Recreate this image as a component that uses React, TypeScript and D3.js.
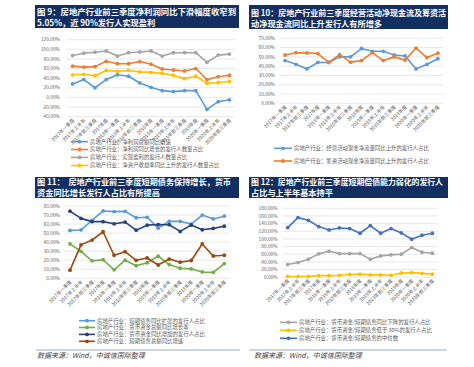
import React from "react";
import * as d3 from "d3";

const CATS = [
  "2017年一季度", "2017年上半年", "2017年前三季度", "2017年度",
  "2018年一季度", "2018年上半年", "2018年前三季度", "2018年度",
  "2019年一季度", "2019年上半年", "2019年前三季度", "2019年度",
  "2020年一季度", "2020年上半年", "2020年前三季度",
];

// 图9
const profitGrowth = [28, 37, 20, 37, 47, 44, 30, 21, 14, 12, 14, 14, -25, -9, -5.05];
const profitUpShare = [65, 63, 64, 75, 70, 70, 74.5, 69, 59, 57, 55, 60, 36.6, 43, 46];
const profitableShare = [87, 92, 94, 96.5, 86, 93, 94.5, 96.5, 86, 93, 93, 93, 73, 88, 90];
const roeUpShare = [47, 48, 45, 56, 54, 56, 53, 52, 50, 46, 39, 44, 29, 31, 33];
const ticks9 = [-40, -20, 0, 20, 40, 60, 80, 100, 120];

// 图10
const opCashUp = [46, 42, 37, 44, 44, 50, 50, 59, 56, 56, 52, 51, 37, 42, 48];
const finCashUp = [52, 54.5, 54.3, 53.6, 44, 52.5, 44.3, 46, 54.6, 46, 50, 46.5, 59.5, 49.3, 54];
const ticks10 = [0, 10, 20, 30, 40, 50, 60, 70];

// 图11
const shortDebtUpShare = [53, 53.5, 64, 74.5, 73.8, 74, 67, 67.5, 55.5, 63, 63, 60, 70, 65.7, 68.7];
const cashGrowth = [38, 29.8, 19.3, 20.5, 9.4, 20, 13.9, 17.2, 24.5, 15.2, 11.1, 10.4, 7, 6.6, 16.3];
const cashUpShare = [74.3, 66.3, 62.7, 62.7, 60.3, 62.2, 53.2, 58.8, 59.5, 59.3, 51.9, 59, 53.7, 55.2, 57.7];
const shortDebtGrowth = [9, 37, 42.3, 51.5, 25.5, 29.4, 19.9, 22.5, 14.7, 21.3, 17.8, 19.7, 38, 24.7, 25.5];
const ticks11 = [0, 10, 20, 30, 40, 50, 60, 70, 80];

// 图12
const ratioDownShare = [33, 38.3, 47, 61, 67.8, 61.7, 61.7, 61.7, 47, 55.7, 58.3, 60, 77.4, 65.2, 62.6];
const ratioBelow30 = [2, 2, 2, 4, 4, 5, 7, 8, 6, 6, 5, 11, 12, 10, 8];
const ratioMedian = [129.6, 155.7, 148.7, 132.2, 123.5, 128.7, 127, 114.8, 134.8, 114.8, 127, 115.7, 99.1, 109.6, 114.8];
const ticks12 = [0, 20, 40, 60, 80, 100, 120, 140, 160, 180];

const FONT = "'Noto Sans CJK SC', 'Noto Sans', sans-serif";
const NAVY = "#132f62";

const charts = [
  {
    title: ["图 9：房地产行业前三季度净利润同比下滑幅度收窄到", "5.05%，近 90%发行人实现盈利"],
    titleLen: 199,
    box: [35, 5, 204, 23], titleY: [15.3, 26],
    xr: [67, 235], yd: [-40, 120], yr: [116.6, 39.7], ticks: ticks9, labelX: 60,
    series: [
      { name: "房地产行业：净利润总额同比增速", color: "#5b9bd5", v: profitGrowth },
      { name: "房地产行业：净利润同比增长的发行人数量占比", color: "#ed7d31", v: profitUpShare },
      { name: "房地产行业：实现盈利的发行人数量占比", color: "#a5a5a5", v: profitableShare },
      { name: "房地产行业：净资产收益率同比上升的发行人数量占比", color: "#ffc000", v: roeUpShare },
    ],
    legend: { x0: 71, x1: 88, ys: [141.7, 149.5, 157.4, 165.5] },
  },
  {
    title: ["图 10：房地产行业前三季度经营活动净现金流及筹资活", "动净现金流同比上升发行人有所增多"],
    titleLen: 195,
    box: [249, 5, 199, 24], titleY: [15.6, 26.8],
    xr: [279.6, 443.3], yd: [0, 70], yr: [103.3, 38.3], ticks: ticks10, labelX: 275,
    series: [
      { name: "房地产行业：经营活动现金净流量同比上升的发行人占比", color: "#5b9bd5", v: opCashUp },
      { name: "房地产行业：筹资活动现金净流量同比上升的发行人占比", color: "#ed7d31", v: finCashUp },
    ],
    legend: { x0: 274, x1: 292, ys: [148.3, 161] },
  },
  {
    title: ["图 11：  房地产行业前三季度短期债务保持增长，货币", "资金同比增长发行人占比有所提高"],
    titleLen: 194,
    box: [35, 177, 204, 21], titleY: [185, 196],
    xr: [64.5, 229.8], yd: [0, 80], yr: [278.3, 206], ticks: ticks11, labelX: 60,
    series: [
      { name: "房地产行业：短期债务同比扩张的发行人占比", color: "#5b9bd5", v: shortDebtUpShare },
      { name: "房地产行业：货币资金总额同比增长率", color: "#70ad47", v: cashGrowth },
      { name: "房地产行业：货币资金同比增加的发行人占比", color: "#264478", v: cashUpShare },
      { name: "房地产行业：短期债务总额同比增速", color: "#9e480e", v: shortDebtGrowth },
    ],
    legend: { x0: 79, x1: 95, ys: [320.7, 327.5, 334.4, 341.3] },
  },
  {
    title: ["图 12：房地产行业前三季度短期偿债能力弱化的发行人", "占比与上半年基本持平"],
    titleLen: 192,
    box: [249, 177, 199, 21], titleY: [185.3, 196.3],
    xr: [282.5, 437.5], yd: [0, 180], yr: [277.2, 208.3], ticks: ticks12, labelX: 277.7,
    series: [
      { name: "房地产行业：货币资金/短期债务同比下降的发行人占比", color: "#a5a5a5", v: ratioDownShare },
      { name: "房地产行业：货币资金/短期债务低于 30%的发行人占比", color: "#ffc000", v: ratioBelow30 },
      { name: "房地产行业：货币资金/短期债务的中位数", color: "#4472c4", v: ratioMedian },
    ],
    legend: { x0: 280, x1: 297, ys: [322.3, 330.3, 338.3] },
  },
];

function Chart({ c }) {
  const x = d3.scalePoint().domain(CATS).range(c.xr).padding(0.5);
  const y = d3.scaleLinear().domain(c.yd).range(c.yr);
  const line = d3.line().x((d, i) => x(CATS[i])).y((d) => y(d));
  const [bx, by, bw, bh] = c.box;
  const bottom = y(c.yd[0]);
  return (
    <g>
      <rect x={bx} y={by} width={bw} height={bh} fill={NAVY} />
      <text x={bx + 2} y={c.titleY[0]} fill="#fff" fontSize={8.2} fontWeight="bold"
        textLength={c.titleLen} lengthAdjust="spacingAndGlyphs" style={{ whiteSpace: "pre" }}>
        {c.title[0]}
      </text>
      <text x={bx + 2} y={c.titleY[1]} fill="#fff" fontSize={8.2} fontWeight="bold">
        {c.title[1]}
      </text>
      {c.ticks.map((t) => (
        <g key={t}>
          <line x1={c.xr[0]} x2={c.xr[1]} y1={y(t)} y2={y(t)} stroke="#d9d9d9" strokeWidth={0.6} />
          <text x={c.labelX} y={y(t) + 1.7} textAnchor="end" fontSize={4.8} fill="#595959">
            {t.toFixed(2) + "%"}
          </text>
        </g>
      ))}
      {CATS.map((cat) => (
        <text key={cat} transform={`translate(${x(cat) + 2},${bottom + 4}) rotate(-45)`} textAnchor="end" fontSize={4.8} fill="#595959">
          {cat}
        </text>
      ))}
      {c.series.map((s) => (
        <g key={s.name}>
          <path d={line(s.v)} fill="none" stroke={s.color} strokeWidth={1.6} strokeLinejoin="round" />
          {s.v.map((v, i) => (
            <circle key={i} cx={x(CATS[i])} cy={y(v)} r={1.9} fill={s.color} />
          ))}
        </g>
      ))}
      {c.series.map((s, i) => {
        const ly = c.legend.ys[i];
        return (
          <g key={"lg" + i}>
            <line x1={c.legend.x0} x2={c.legend.x1} y1={ly} y2={ly} stroke={s.color} strokeWidth={1.6} />
            <circle cx={(c.legend.x0 + c.legend.x1) / 2} cy={ly} r={1.9} fill={s.color} />
            <text x={c.legend.x1 + 2} y={ly + 1.9} fontSize={5.4} fill="#595959">
              {s.name}
            </text>
          </g>
        );
      })}
    </g>
  );
}

export default function App() {
  return (
    <svg width={474} height={367} style={{ position: "absolute", left: 0, top: 0, background: "#fff", fontFamily: FONT }}>
      {charts.map((c, i) => (
        <Chart key={i} c={c} />
      ))}
      <line x1={36} x2={240} y1={350} y2={350} stroke="#8497b0" strokeWidth={0.8} />
      <line x1={249} x2={447} y1={350} y2={350} stroke="#8497b0" strokeWidth={0.8} />
      <text x={37} y={358} fontSize={7} fontStyle="italic" fill="#404040">数据来源：Wind，中诚信国际整理</text>
      <text x={254} y={358} fontSize={7} fontStyle="italic" fill="#404040">数据来源：Wind，中诚信国际整理</text>
    </svg>
  );
}
